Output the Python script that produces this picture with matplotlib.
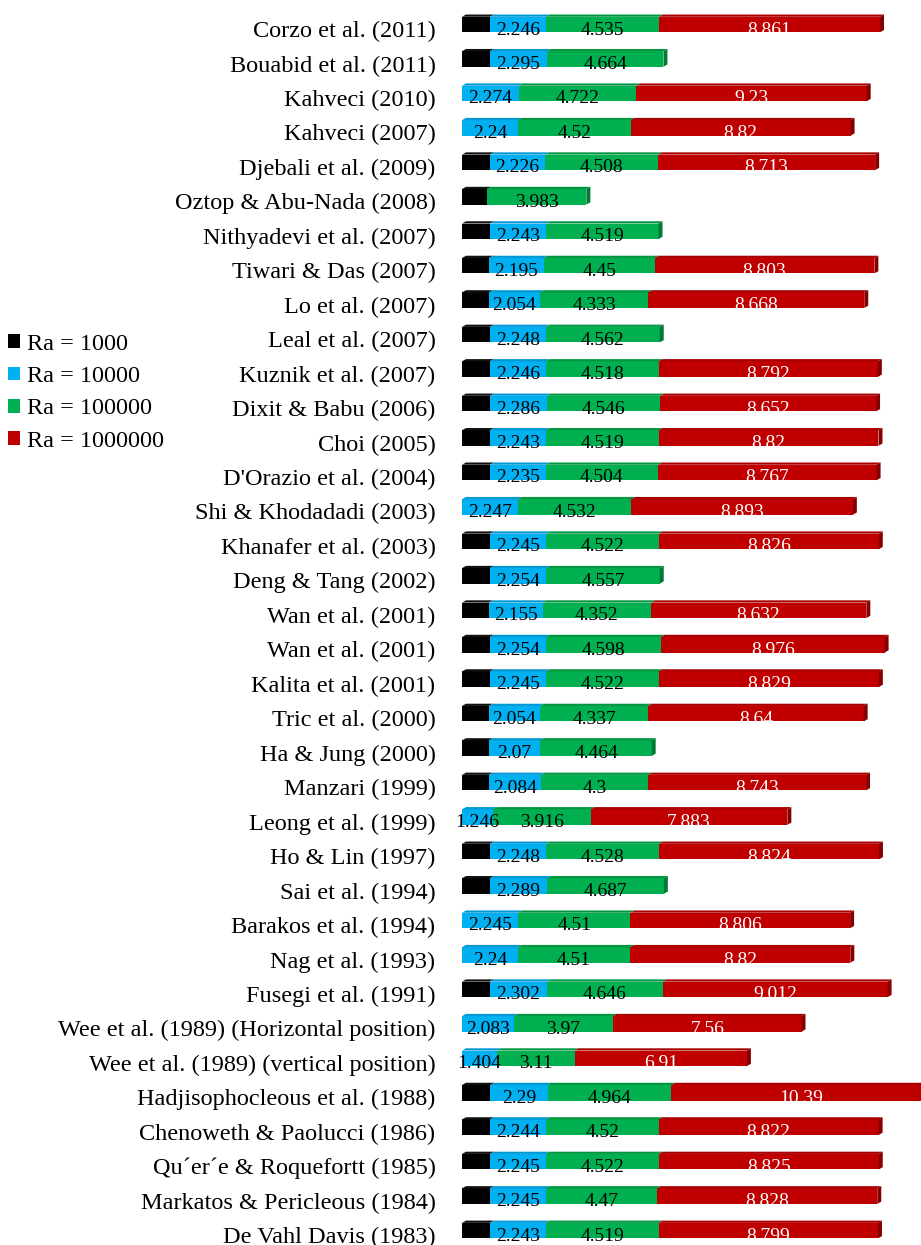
import numpy as np
import matplotlib
matplotlib.use("Agg")
import matplotlib.pyplot as plt
from matplotlib.patches import Polygon, Patch
from matplotlib.transforms import ScaledTranslation

# Average Nusselt number reported by each study, per Rayleigh number
studies = [
    "Corzo et al. (2011)", "Bouabid et al. (2011)", "Kahveci (2010)", "Kahveci (2007)",
    "Djebali et al. (2009)", "Oztop & Abu-Nada (2008)", "Nithyadevi et al. (2007)",
    "Tiwari & Das (2007)", "Lo et al. (2007)", "Leal et al. (2007)", "Kuznik et al. (2007)",
    "Dixit & Babu (2006)", "Choi (2005)", "D'Orazio et al. (2004)", "Shi & Khodadadi (2003)",
    "Khanafer et al. (2003)", "Deng & Tang (2002)", "Wan et al. (2001)", "Wan et al. (2001)",
    "Kalita et al. (2001)", "Tric et al. (2000)", "Ha & Jung (2000)", "Manzari (1999)",
    "Leong et al. (1999)", "Ho & Lin (1997)", "Sai et al. (1994)", "Barakos et al. (1994)",
    "Nag et al. (1993)", "Fusegi et al. (1991)", "Wee et al. (1989) (Horizontal position)",
    "Wee et al. (1989) (vertical position)", "Hadjisophocleous et al. (1988)",
    "Chenoweth & Paolucci (1986)", "Qu\u00b4er\u00b4e & Roquefortt (1985)",
    "Markatos & Pericleous (1984)", "De Vahl Davis (1983)",
]
nan = np.nan
nu_ra1e3 = np.array([1.118, 1.118, nan, nan, 1.118, 1.004, 1.118, 1.087, 1.074, 1.118,
                     1.118, 1.118, 1.118, 1.118, nan, 1.118, 1.118, 1.073, 1.117, 1.118,
                     1.074, 1.072, 1.074, nan, 1.118, 1.118, nan, nan, 1.105, nan,
                     nan, 1.141, 1.118, 1.118, 1.108, 1.118])
nu_ra1e4 = np.array([2.246, 2.295, 2.274, 2.24, 2.226, nan, 2.243, 2.195, 2.054, 2.248,
                     2.246, 2.286, 2.243, 2.235, 2.247, 2.245, 2.254, 2.155, 2.254, 2.245,
                     2.054, 2.07, 2.084, 1.246, 2.248, 2.289, 2.245, 2.24, 2.302, 2.083,
                     1.404, 2.29, 2.244, 2.245, 2.245, 2.243])
nu_ra1e5 = np.array([4.535, 4.664, 4.722, 4.52, 4.508, 3.983, 4.519, 4.45, 4.333, 4.562,
                     4.518, 4.546, 4.519, 4.504, 4.532, 4.522, 4.557, 4.352, 4.598, 4.522,
                     4.337, 4.464, 4.3, 3.916, 4.528, 4.687, 4.51, 4.51, 4.646, 3.97,
                     3.11, 4.964, 4.52, 4.522, 4.47, 4.519])
nu_ra1e6 = np.array([8.861, nan, 9.23, 8.82, 8.713, nan, nan, 8.803, 8.668, nan,
                     8.792, 8.652, 8.82, 8.767, 8.893, 8.826, nan, 8.632, 8.976, 8.829,
                     8.64, nan, 8.743, 7.883, 8.824, nan, 8.806, 8.82, 9.012, 7.56,
                     6.91, 10.39, 8.822, 8.825, 8.828, 8.799])

series = [nu_ra1e3, nu_ra1e4, nu_ra1e5, nu_ra1e6]
legend_labels = ["Ra = 1000", "Ra = 10000", "Ra = 100000", "Ra = 1000000"]
front = ["#000000", "#00b0f0", "#00b050", "#c00000"]
top = ["#111111", "#0098d4", "#00963f", "#a80000"]
side = ["#000000", "#007fb0", "#007a33", "#850000"]
text_col = [None, "black", "black", "white"]

label_font = "Liberation Serif"

fig = plt.figure(figsize=(9.21, 12.45), dpi=100)
ax = fig.add_axes([462 / 921, 0, 1 - 462 / 921, 1])

y = np.arange(len(studies))
h = 0.45      # front face height
dx = 0.16     # depth offset of the 3D faces
dy = 0.065

left = np.zeros(len(studies))
last_right = np.zeros(len(studies))
last_idx = np.zeros(len(studies), dtype=int)
for k, vals in enumerate(series):
    w = np.nan_to_num(vals)
    ax.barh(y, w, left=left, height=h, color=front[k], linewidth=0)
    for i in range(len(studies)):
        if w[i] <= 0:
            continue
        x0, x1 = left[i], left[i] + w[i]
        yt = y[i] - h / 2
        ax.add_patch(Polygon([(x0, yt), (x0 + dx, yt - dy), (x1 + dx, yt - dy), (x1, yt)],
                             closed=True, facecolor=top[k], linewidth=0))
        if text_col[k]:
            ax.text((x0 + x1) / 2, y[i] + 0.16, f"{vals[i]:g}", ha="center", va="center",
                    fontsize=14, family=label_font, color=text_col[k], clip_on=False)
        last_right[i] = x1
        last_idx[i] = k
    left = left + w

# right-hand face on the end of each stack
for i in range(len(studies)):
    x1 = last_right[i]
    yt, yb = y[i] - h / 2, y[i] + h / 2
    ax.add_patch(Polygon([(x1, yb), (x1, yt), (x1 + dx, yt - dy), (x1 + dx, yb - dy)],
                         closed=True, facecolor=side[last_idx[i]], linewidth=0))

ax.set_xlim(0, 459 / 24.94)
ax.set_ylim((1245 - 24.5) / 34.46, -24.5 / 34.46)
ax.set_yticks(y)
ax.set_yticklabels(studies, family=label_font, fontsize=17.5)
ax.tick_params(axis="y", length=0, pad=19)
ax.set_xticks([])
for lab in ax.get_yticklabels():
    lab.set_transform(lab.get_transform() + ScaledTranslation(0, -4.5 / 100, fig.dpi_scale_trans))
for s in ax.spines.values():
    s.set_visible(False)

handles = [Patch(facecolor=c, edgecolor="none") for c in front]
fig.legend(handles, legend_labels, loc="upper left", bbox_to_anchor=(8 / 921, 1 - 334 / 1245),
           frameon=False, prop={"family": label_font, "size": 17.5},
           handlelength=0.5, handleheight=0.5, handletextpad=0.3,
           borderpad=0, borderaxespad=0, labelspacing=0.46)

plt.savefig("out.png", dpi=100)
